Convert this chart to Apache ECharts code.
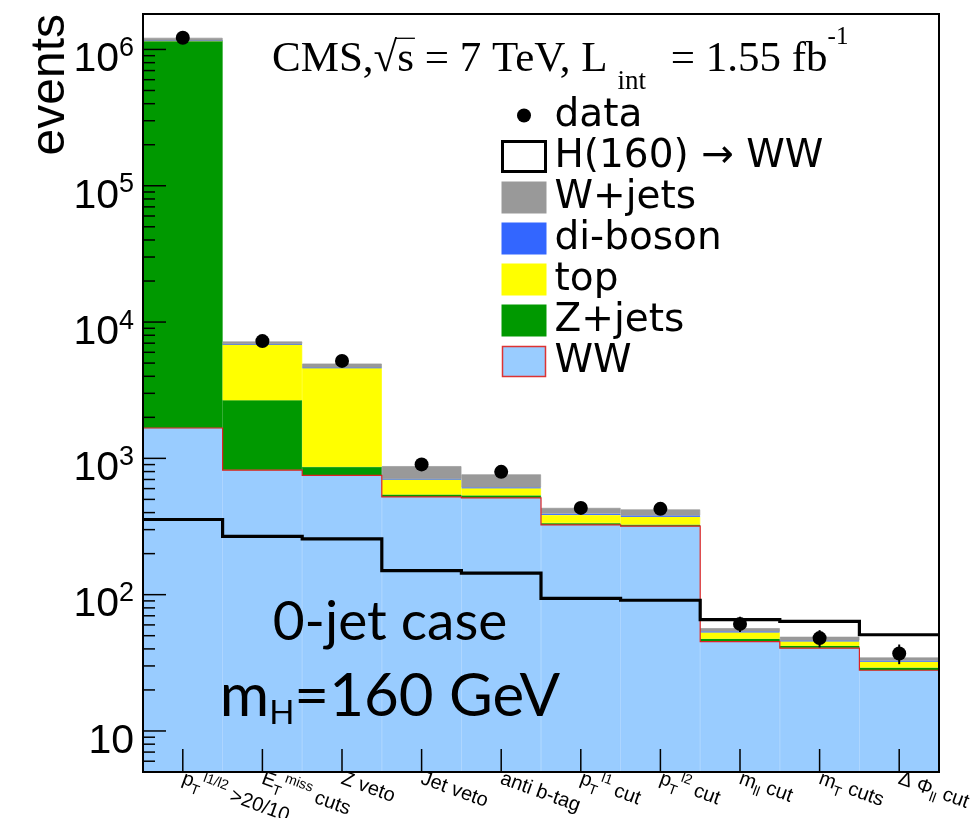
<!DOCTYPE html>
<html>
<head>
<meta charset="utf-8">
<script src="https://cdn.jsdelivr.net/npm/echarts@6/dist/echarts.min.js"></script>
<style>
  html, body { margin: 0; padding: 0; background: #fff; }
  #chart { width: 980px; height: 818px; }
</style>
</head>
<body>
<div id="chart"></div>
<script>
// Selection cuts (rich-text labels: {sub|..} subscript, {sup|..} superscript)
const cutLabels = [
  'p{sub|T}{sup|l1/l2} >20/10',
  'E{sub|T}{sup|miss} cuts',
  'Z veto',
  'Jet veto',
  'anti b-tag',
  'p{sub|T}{sup|l1} cut',
  'p{sub|T}{sup|l2} cut',
  'm{sub|ll} cut',
  'm{sub|T} cuts',
  '\u0394 \u03A6{sub|ll} cut'
];

// Expected events per background process after each cut (stack order: bottom to top)
const wwEvents      = [1670, 820, 750, 522, 513, 325, 318, 45.3, 40.5, 27.9];
const zjetsEvents   = [1155000, 1850, 117, 21, 22, 10, 9, 2.2, 1.7, 1.3];
const topEvents     = [3000, 4180, 3740, 157, 70, 50, 46, 5.4, 3.3, 3.1];
const dibosonEvents = [1000, 40, 33, 8, 7, 8, 8, 0.8, 0.6, 0.5];
const wjetsEvents   = [57000, 310, 320, 169, 151, 40, 41, 3.1, 3.0, 1.8];

// Signal expectation, m_H = 160 GeV
const higgs160Events = [356, 268, 257, 150, 144, 94, 91, 65.5, 63.7, 50.8];

// Observed events
const dataEvents = [1220000, 7250, 5190, 903, 796, 433, 426, 61, 48, 37];

// Vertical axis range, decade (major) and 2..9 (minor) tick values
const yMin = 5;
const yMax = 1.82e6;
const yMajorTicks = [10, 100, 1000, 10000, 100000, 1000000];
const yMinorTicks = [];
for (let d = 1; d <= 1e6; d *= 10) {
  for (let k = 2; k <= 9; k++) {
    const v = k * d;
    if (v > yMin && v < yMax) yMinorTicks.push(v);
  }
}

const chart = echarts.init(document.getElementById('chart'), null, { renderer: 'canvas' });

const SANS = 'Liberation Sans, Helvetica, Arial, sans-serif';
const LEGEND_FONT = 'DejaVu Sans, sans-serif';
const SERIF = 'Liberation Serif, Times New Roman, serif';
const HUMANIST = 'Lato, sans-serif';

// Header text geometry; the bar over "s" of the square root is placed from measured glyph widths
const HEAD_X = 272, HEAD_TOP = 25, HEAD_LH = 70, HEAD_SIZE = 43;
const measureCtx = document.createElement('canvas').getContext('2d');
measureCtx.font = HEAD_SIZE + 'px "Liberation Serif"';
measureCtx.textBaseline = 'middle';
const rootEnd = HEAD_X + measureCtx.measureText('CMS,\u221A').width;
const sWidth = measureCtx.measureText('s').width;
const rootTop = HEAD_TOP + HEAD_LH / 2 - measureCtx.measureText('\u221A').actualBoundingBoxAscent;

// Histogram outline: one polyline across all bins
function stepOutline(name, values, color, width, z) {
  return {
    name: name,
    type: 'custom',
    silent: true,
    z: z,
    itemStyle: { color: color },
    data: values.map((v, i) => [i, v]),
    renderItem(params, api) {
      if (params.dataIndex !== 0) return null;
      const bw = api.size([1, 0])[0];
      const pts = [];
      for (let i = 0; i < values.length; i++) {
        const p = api.coord([i, values[i]]);
        pts.push([p[0] - bw / 2, p[1]]);
        pts.push([p[0] + bw / 2, p[1]]);
      }
      return {
        type: 'polyline',
        shape: { points: pts },
        style: { fill: null, stroke: color, lineWidth: width, lineJoin: 'miter' }
      };
    }
  };
}

function stackBar(name, values, color) {
  return {
    name: name,
    type: 'bar',
    stack: 'mc',
    barCategoryGap: '0%',
    clip: true,
    silent: true,
    z: 2,
    itemStyle: { color: color, borderColor: color, borderWidth: 0.7 },
    data: values
  };
}

// Inward-pointing ticks on the left axis
function yTickSeries(name, values, len) {
  return {
    name: name,
    type: 'custom',
    silent: true,
    z: 9,
    data: values.map(v => [0, v]),
    renderItem(params, api) {
      const p = api.coord([0, api.value(1)]);
      const x = p[0] - api.size([1, 0])[0] / 2;
      return {
        type: 'line',
        shape: { x1: x, y1: p[1], x2: x + len, y2: p[1] },
        style: { stroke: '#000', lineWidth: 1.5 }
      };
    }
  };
}

const option = {
  animation: false,
  backgroundColor: '#fff',
  grid: {
    left: 143, right: 41, top: 14, bottom: 46,
    outerBoundsMode: 'none',
    containLabel: false,
    show: true, borderColor: '#000', borderWidth: 2,
    backgroundColor: 'transparent', z: 8
  },
  xAxis: {
    type: 'category',
    data: cutLabels,
    boundaryGap: true,
    z: 8,
    axisLine: { lineStyle: { color: '#000', width: 2 } },
    axisTick: { show: false },
    axisLabel: {
      interval: 0,
      rotate: -20,
      margin: 6,
      color: '#000',
      fontFamily: SANS,
      fontSize: 20,
      lineHeight: 29,
      rich: {
        sub: { fontFamily: SANS, fontSize: 14, color: '#000', verticalAlign: 'bottom', lineHeight: 15 },
        sup: { fontFamily: SANS, fontSize: 14, color: '#000', verticalAlign: 'top', lineHeight: 15 }
      }
    },
    splitLine: { show: false }
  },
  yAxis: {
    type: 'log',
    logBase: 10,
    min: yMin,
    max: yMax,
    z: 8,
    axisLine: { show: true, lineStyle: { color: '#000', width: 2 } },
    axisTick: { show: false },
    splitLine: { show: false },
    axisLabel: {
      showMinLabel: false,
      showMaxLabel: false,
      margin: 9,
      color: '#000',
      fontFamily: SANS,
      fontSize: 41,
      lineHeight: 50,
      padding: [21, 0, 0, 0],
      formatter(v) {
        const e = Math.round(Math.log10(v));
        return e === 1 ? '10' : '10{sup|' + e + '}';
      },
      rich: {
        sup: { fontFamily: SANS, fontSize: 27, color: '#000', verticalAlign: 'top', lineHeight: 27 }
      }
    }
  },
  legend: {
    orient: 'vertical',
    left: 501,
    top: 96,
    padding: 0,
    itemWidth: 43,
    itemHeight: 30,
    itemGap: 2,
    selectedMode: false,
    textStyle: { fontFamily: LEGEND_FONT, fontSize: 39, color: '#000', padding: [0, 0, 0, 4] },
    data: [
      { name: 'data', icon: 'path://M0,0M43,30M28.5,15A7,7,0,1,1,14.5,15A7,7,0,1,1,28.5,15Z', itemStyle: { color: '#000' } },
      { name: 'H(160) \u2192 WW', icon: 'rect', itemStyle: { color: '#fff', borderColor: '#000', borderWidth: 3 } },
      { name: 'W+jets', icon: 'rect', itemStyle: { color: '#999999' } },
      { name: 'di-boson', icon: 'rect', itemStyle: { color: '#3366ff' } },
      { name: 'top', icon: 'rect', itemStyle: { color: '#ffff00' } },
      { name: 'Z+jets', icon: 'rect', itemStyle: { color: '#009900' } },
      { name: 'WW', icon: 'rect', itemStyle: { color: '#99ccff', borderColor: '#dd3333', borderWidth: 1.5 } }
    ]
  },
  graphic: [
    {
      type: 'text', x: 75, y: 14, rotation: Math.PI / 2, silent: true, z: 100,
      style: { text: 'events', fontFamily: SANS, fontSize: 48, fill: '#000', align: 'right', verticalAlign: 'bottom' }
    },
    {
      type: 'text', x: HEAD_X, y: HEAD_TOP, silent: true, z: 100,
      style: {
        text: '{a|CMS,\u221As = 7 TeV, L}{sub|int}{a| = 1.55 fb}{sup|-1}',
        align: 'left', verticalAlign: 'top',
        rich: {
          a: { fontFamily: SERIF, fontSize: HEAD_SIZE, fill: '#000', lineHeight: HEAD_LH },
          sub: { fontFamily: SERIF, fontSize: 27, fill: '#000', verticalAlign: 'bottom', lineHeight: 30, padding: [0, 14, 0, 10] },
          sup: { fontFamily: SERIF, fontSize: 25, fill: '#000', verticalAlign: 'top', lineHeight: 44 }
        }
      }
    },
    {
      type: 'line', silent: true, z: 100,
      shape: { x1: rootEnd - 1.5, y1: rootTop + 1, x2: rootEnd + sWidth + 1, y2: rootTop + 1 },
      style: { stroke: '#000', lineWidth: 1.3 }
    },
    {
      type: 'text', x: 390, y: 622, silent: true, z: 100,
      style: { text: '0-jet case', fontFamily: HUMANIST, fontSize: 55, fill: '#000', align: 'center', verticalAlign: 'middle' }
    },
    {
      type: 'text', x: 390, y: 697, silent: true, z: 100,
      style: {
        text: '{a|m}{b|H}{a|=160 GeV}',
        align: 'center', verticalAlign: 'middle',
        rich: {
          a: { fontFamily: HUMANIST, fontSize: 60, fill: '#000', lineHeight: 66 },
          b: { fontFamily: HUMANIST, fontSize: 33, fill: '#000', verticalAlign: 'bottom', lineHeight: 43 }
        }
      }
    }
  ],
  series: [
    stackBar('WW', wwEvents, '#99ccff'),
    stackBar('Z+jets', zjetsEvents, '#009900'),
    stackBar('top', topEvents, '#ffff00'),
    stackBar('di-boson', dibosonEvents, '#3366ff'),
    stackBar('W+jets', wjetsEvents, '#999999'),
    stepOutline('WW outline', wwEvents, '#dd2222', 1.2, 3),
    stepOutline('H(160) \u2192 WW', higgs160Events, '#000', 3.2, 4),
    {
      name: 'data error',
      type: 'custom',
      silent: true,
      z: 5,
      data: dataEvents.map((v, i) => [i, v - Math.sqrt(v), v + Math.sqrt(v)]),
      renderItem(params, api) {
        const lo = api.coord([api.value(0), api.value(1)]);
        const hi = api.coord([api.value(0), api.value(2)]);
        return {
          type: 'line',
          shape: { x1: lo[0], y1: lo[1], x2: hi[0], y2: hi[1] },
          style: { stroke: '#000', lineWidth: 2 }
        };
      }
    },
    {
      name: 'data',
      type: 'scatter',
      silent: true,
      z: 6,
      symbol: 'circle',
      symbolSize: 14,
      itemStyle: { color: '#000', opacity: 1 },
      data: dataEvents.map((v, i) => [i, v])
    },
    yTickSeries('major ticks', yMajorTicks, 23),
    yTickSeries('minor ticks', yMinorTicks, 12),
    {
      name: 'cut ticks',
      type: 'custom',
      silent: true,
      z: 9,
      data: cutLabels.map((c, i) => [i, yMin]),
      renderItem(params, api) {
        const p = api.coord([api.value(0), yMin]);
        return {
          type: 'line',
          shape: { x1: p[0], y1: p[1], x2: p[0], y2: p[1] - 23 },
          style: { stroke: '#000', lineWidth: 1.5 }
        };
      }
    }
  ]
};

chart.setOption(option);
</script>
</body>
</html>
